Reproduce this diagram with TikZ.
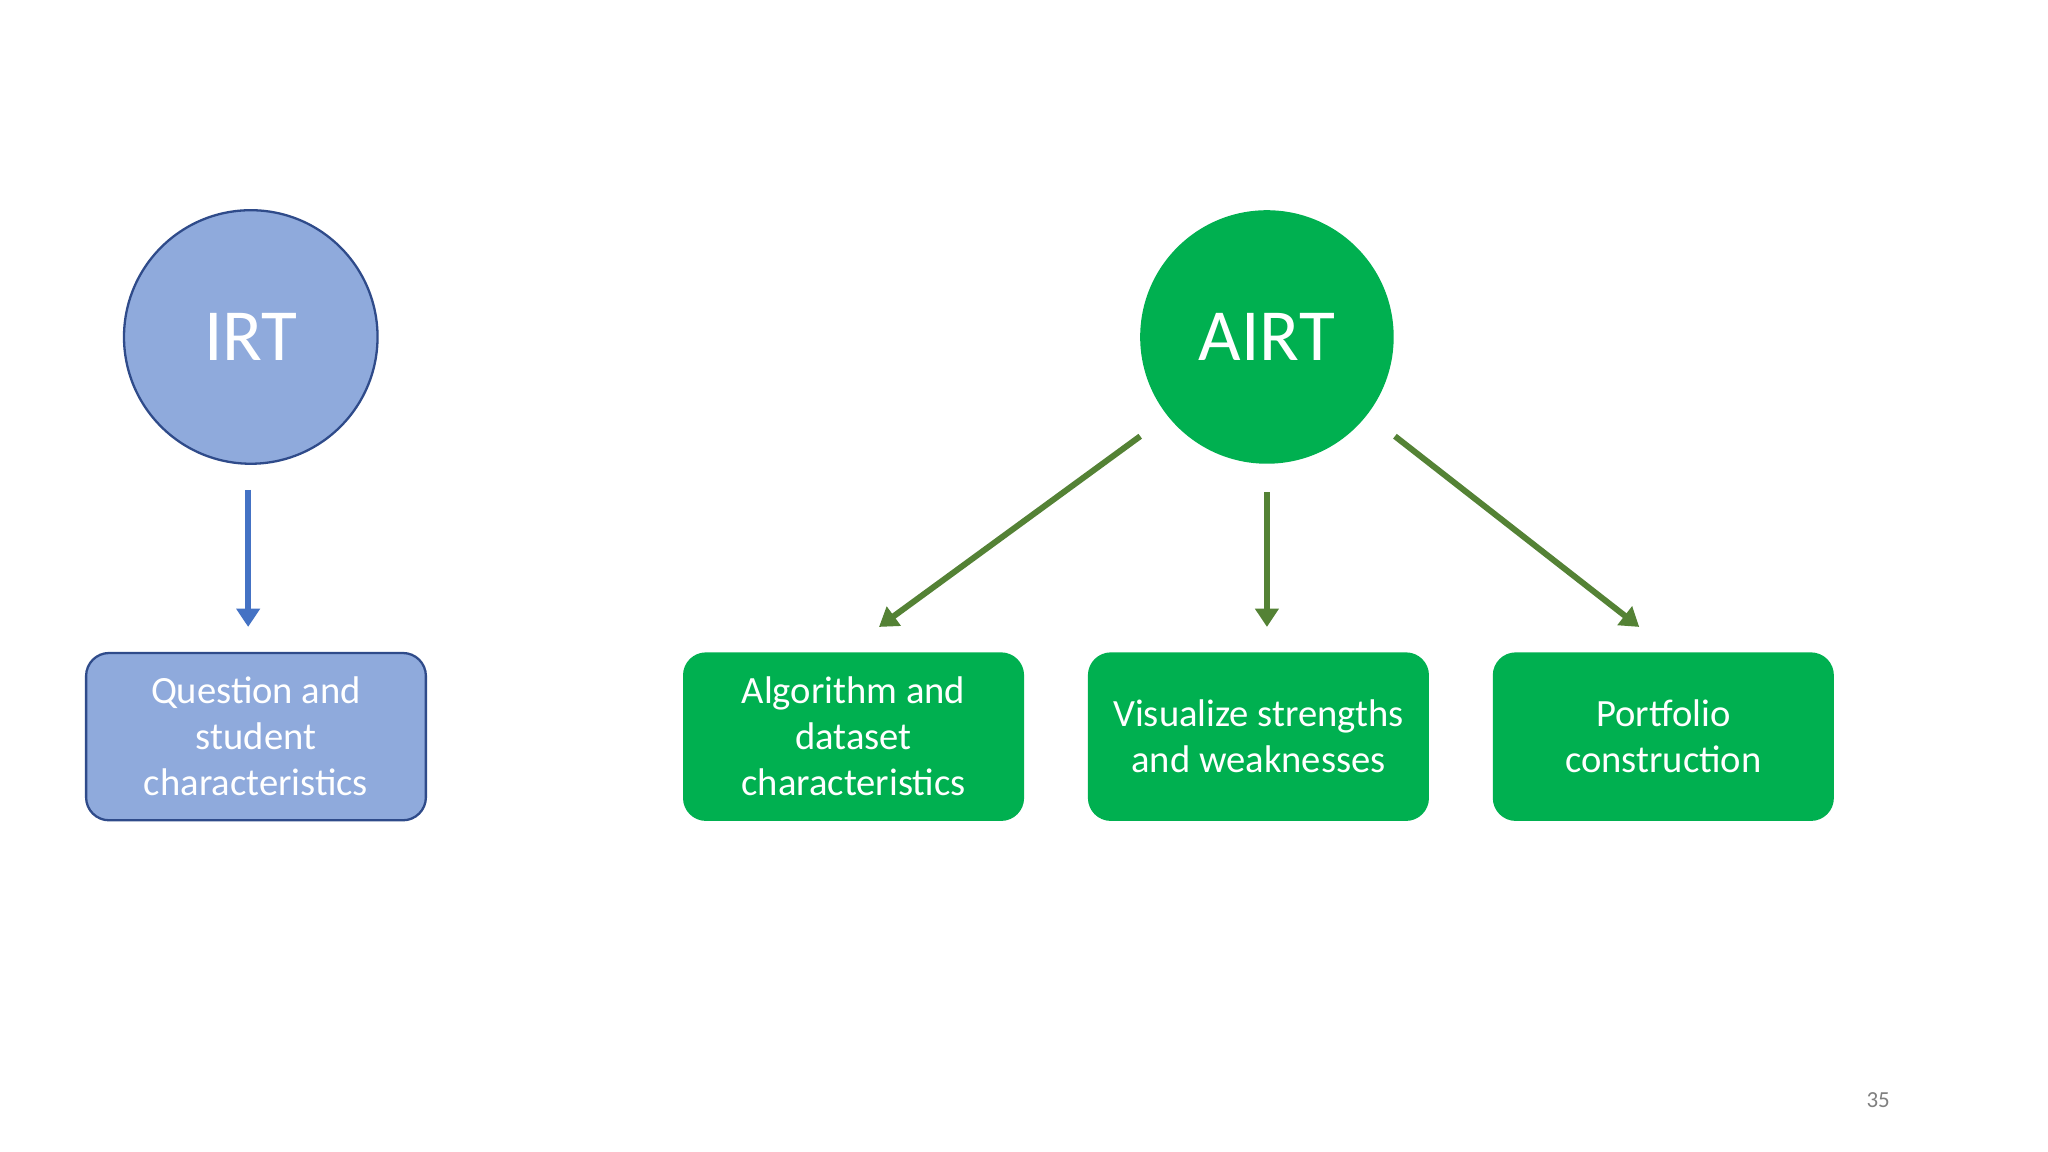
\documentclass[tikz,border=0pt]{standalone}
\usepackage{fontspec}
\setmainfont{Carlito}
\usetikzlibrary{arrows.meta}
\definecolor{lblue}{HTML}{8FAADC}
\definecolor{dblue}{HTML}{2F4B8A}
\definecolor{ablue}{HTML}{4472C4}
\definecolor{gfill}{HTML}{00B050}
\definecolor{garrow}{HTML}{548235}
\tikzset{
 px/.style={x=0.01cm,y=-0.01cm},
 bluebox/.style={draw=dblue,line width=0.5pt,fill=lblue,rounded corners=5pt,minimum width=2.6cm,minimum height=1.28cm,text=white,align=center,font=\fontsize{8.4}{10}\selectfont},
 greenbox/.style={fill=gfill,rounded corners=5pt,minimum width=2.61cm,minimum height=1.29cm,text=white,align=center,font=\fontsize{8.4}{10}\selectfont},
 bcirc/.style={circle,draw=dblue,line width=0.5pt,fill=lblue,minimum size=1.94cm,text=white,font=\fontsize{16}{18}\selectfont},
 gcirc/.style={circle,fill=gfill,minimum size=1.94cm,text=white,font=\fontsize{16}{18}\selectfont},
 barrow/.style={draw=ablue,line width=1.3pt,-{Triangle[length=4pt,width=5pt]}},
 garr/.style={draw=garrow,line width=1.3pt,-{Triangle[length=4pt,width=5pt]}},
}
\begin{document}
\begin{tikzpicture}[px]
\fill[white] (0,0) rectangle (1568,882);
\useasboundingbox (0,0) rectangle (1568,882);
\node[bcirc] (irt) at (192,258) {IRT};
\node[gcirc] (airt) at (970,258) {AIRT};
\node[bluebox] (q) at (196,564) {Question and\\student\\characteristics};
\node[greenbox] (a) at (653.5,564) {Algorithm and\\dataset\\characteristics};
\node[greenbox] (v) at (963.5,564) {Visualize strengths\\and weaknesses};
\node[greenbox] (p) at (1273.5,564) {Portfolio\\construction};
\coordinate (i1) at (190,375); \coordinate (i2) at (190,480);
\coordinate (g1) at (873,334); \coordinate (g2) at (673,480);
\coordinate (g3) at (970,377); \coordinate (g4) at (970,480);
\coordinate (g5) at (1068,334); \coordinate (g6) at (1255,480);
\draw[barrow] (i1) -- (i2);
\draw[garr] (g1) -- (g2);
\draw[garr] (g3) -- (g4);
\draw[garr] (g5) -- (g6);
\node[text=gray,font=\fontsize{5}{6}\selectfont] (pg) at (1438,842) {35};
\end{tikzpicture}
\end{document}
